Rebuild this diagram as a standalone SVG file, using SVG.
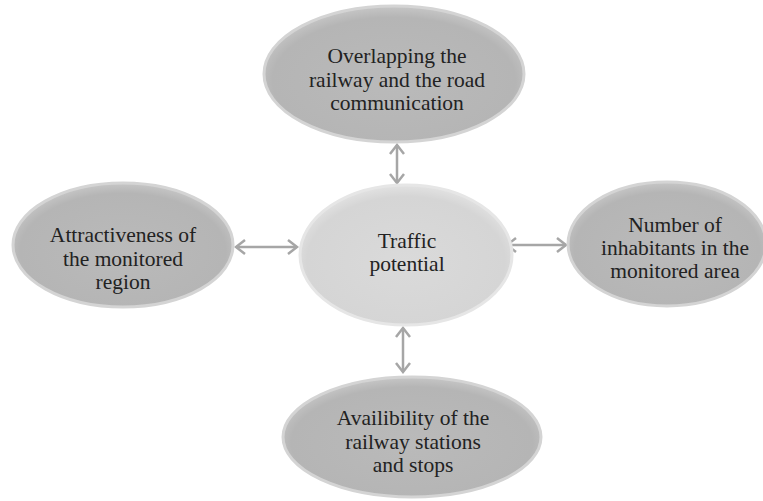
<svg xmlns="http://www.w3.org/2000/svg" width="763" height="501" viewBox="0 0 763 501">
<style>
.outer{fill:url(#gOuter);stroke:#d4d4d4;stroke-width:3}
.inner{fill:url(#gInner);stroke:#e6e6e6;stroke-width:3}
.t{font-family:"Liberation Serif","Times New Roman",serif;font-size:21.5px;fill:#222;text-anchor:middle}
.conn{stroke:#a6a6a6;stroke-width:2.5;fill:none;marker-start:url(#ah);marker-end:url(#ah)}
</style>
<defs>
<radialGradient id="gOuter" cx="0.5" cy="0.55" r="0.55">
<stop offset="0" stop-color="#bababa"/>
<stop offset="0.85" stop-color="#b5b5b5"/>
<stop offset="1" stop-color="#c6c6c6"/>
</radialGradient>
<radialGradient id="gInner" cx="0.5" cy="0.55" r="0.55">
<stop offset="0" stop-color="#dadada"/>
<stop offset="0.85" stop-color="#d5d5d5"/>
<stop offset="1" stop-color="#e2e2e2"/>
</radialGradient>
<marker id="ah" viewBox="-11 -9 13 18" markerWidth="13" markerHeight="18" refX="0" refY="0" orient="auto-start-reverse" markerUnits="userSpaceOnUse">
<path d="M-9,-7 L0,0 L-9,7" fill="none" stroke="#a6a6a6" stroke-width="2.5" stroke-linejoin="miter"/>
</marker>
</defs>
<g id="connectors">
<line class="conn" x1="397" y1="145" x2="397" y2="183"/>
<line class="conn" x1="236" y1="247" x2="297" y2="247"/>
<line class="conn" x1="507" y1="245" x2="566" y2="245"/>
<line class="conn" x1="403" y1="328" x2="403" y2="372"/>
</g>
<g id="node-top">
<ellipse class="outer" cx="394" cy="74" rx="130" ry="68"/>
<text class="t" x="397" y="63">Overlapping the</text>
<text class="t" x="397" y="87">railway and the road</text>
<text class="t" x="397" y="110">communication</text>
</g>
<g id="node-center">
<ellipse class="inner" cx="406" cy="255" rx="106" ry="70"/>
<text class="t" x="407" y="248">Traffic</text>
<text class="t" x="407" y="271">potential</text>
</g>
<g id="node-left">
<ellipse class="outer" cx="123" cy="245" rx="110" ry="62"/>
<text class="t" x="123" y="242">Attractiveness of</text>
<text class="t" x="123" y="266">the monitored</text>
<text class="t" x="123" y="289">region</text>
</g>
<g id="node-right">
<ellipse class="outer" cx="667" cy="244" rx="99" ry="62"/>
<text class="t" x="675" y="232">Number of</text>
<text class="t" x="675" y="255">inhabitants in the</text>
<text class="t" x="675" y="278">monitored area</text>
</g>
<g id="node-bottom">
<ellipse class="outer" cx="412" cy="437" rx="129" ry="60"/>
<text class="t" x="413" y="425">Availibility of the</text>
<text class="t" x="413" y="449">railway stations</text>
<text class="t" x="413" y="472">and stops</text>
</g>
</svg>
